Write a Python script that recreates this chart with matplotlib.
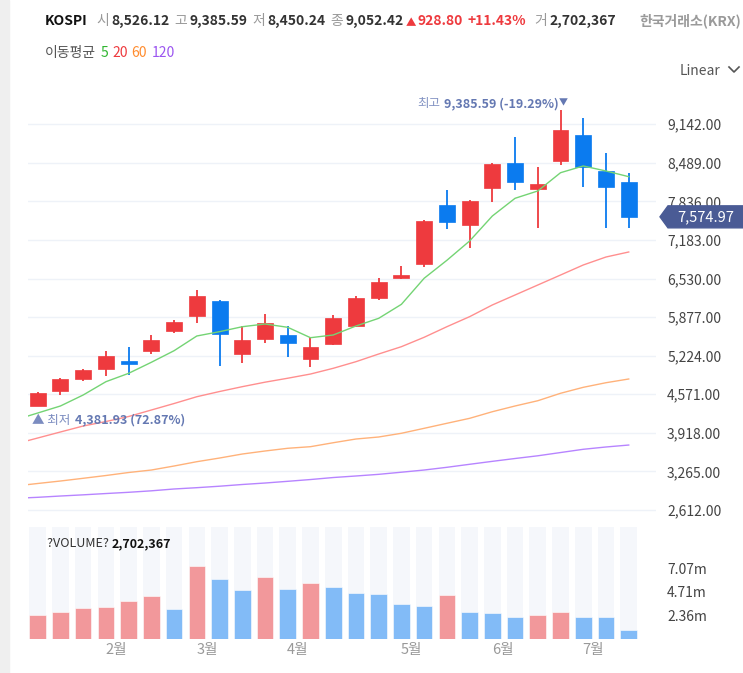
import numpy as np
import matplotlib.pyplot as plt
from matplotlib.patches import Polygon, Rectangle
from matplotlib.lines import Line2D
import matplotlib.transforms as mtransforms

plt.rcParams['font.family'] = ['Noto Sans CJK KR', 'DejaVu Sans']

# weekly KOSPI candles (Jan .. Jul)
open_ = [4373, 4632, 4825, 4994, 5135, 5299, 5637, 5901, 6155, 5253,
         5502, 5575, 5168, 5417, 5732, 6206, 6535, 6777, 7771, 7437,
         8068, 8492, 8041, 8526.12, 8961, 8351, 8170]
high = [4610, 4847, 5004, 5309, 5367, 5575, 5829, 6337, 6167, 5727,
        5925, 5727, 5546, 5908, 6235, 6545, 6743, 7522, 8030, 7860,
        8480, 8927, 8424, 9385.59, 9243, 8651, 8312]
low = [4381.93, 4554, 4796, 4881, 4893, 5253, 5603, 5773, 5050, 5096,
       5444, 5207, 5028, 5400, 5715, 6167, 6528, 6731, 7364, 7043,
       7832, 8030, 7391, 8450.24, 8075, 7381, 7391]
close = [4588, 4835, 4982, 5219, 5084, 5490, 5800, 6240, 5587, 5490,
         5783, 5439, 5377, 5868, 6196, 6467, 6591, 7505, 7493, 7848,
         8470, 8160, 8123.62, 9052.42, 8424, 8086, 7574.97]
# volume in millions
volume = [2.40, 2.67, 3.10, 3.13, 3.77, 4.23, 3.00, 7.30, 5.93, 4.83,
          6.17, 4.97, 5.57, 5.20, 4.60, 4.47, 3.50, 3.27, 4.33, 2.63,
          2.60, 2.13, 2.40, 2.70, 2.20, 2.18, 0.87]

# moving averages, first value belongs to the week before the first candle
ma5 = [4136, 4254, 4373, 4559, 4784, 4926, 5113, 5309, 5558, 5631, 5715,
       5761, 5705, 5529, 5575, 5727, 5857, 6094, 6535, 6839, 7166, 7589,
       7889, 8013, 8322, 8436, 8351, 8255]
ma20 = [3729, 3831, 3933, 4034, 4110, 4195, 4305, 4415, 4530, 4618, 4700,
        4776, 4843, 4914, 5011, 5123, 5253, 5377, 5536, 5715, 5885, 6083,
        6252, 6421, 6590, 6760, 6895, 6980]
ma60 = [3018, 3061, 3103, 3149, 3196, 3247, 3289, 3357, 3430, 3492, 3560,
        3611, 3657, 3684, 3751, 3814, 3848, 3911, 3995, 4080, 4164, 4276,
        4373, 4462, 4588, 4689, 4767, 4830]
ma120 = [2810, 2827, 2849, 2869, 2891, 2912, 2937, 2968, 2990, 3015, 3044,
         3069, 3098, 3128, 3162, 3188, 3216, 3252, 3289, 3335, 3386, 3436,
         3484, 3530, 3585, 3640, 3679, 3712]

price_ticks = [2612, 3265, 3918, 4571, 5224, 5877, 6530, 7183, 7836, 8489, 9142]
vol_ticks = [2.36, 4.71, 7.07]
month_labels = ['2월', '3월', '4월', '5월', '6월', '7월']
month_start = [4, 8, 12, 17, 21, 25]

RED, BLUE = '#ee3a3e', '#0b7bef'
VRED, VBLUE = '#f2989b', '#82bbf7'
W, H = 743, 673

fig = plt.figure(figsize=(W / 100, H / 100), dpi=100)
fig.patches.append(Rectangle((0, 0), 9 / W, 1, transform=fig.transFigure,
                             color='#efefef', zorder=0))


def box(x0, y0, x1, y1):
    return [x0 / W, 1 - y1 / H, (x1 - x0) / W, (y1 - y0) / H]


ax = fig.add_axes(box(28, 88, 656, 520))
axv = fig.add_axes(box(28, 527, 656, 638.7))

x = np.arange(len(close))
xm = np.arange(-1, len(close))
o, c = np.array(open_), np.array(close)
up = c >= o
ccol = np.where(up, RED, BLUE)

ax.vlines(x, low, high, colors=ccol, lw=1.3, zorder=3)
ax.bar(x, np.abs(c - o), bottom=np.minimum(o, c), width=0.7, color=ccol,
       edgecolor=ccol, lw=0.5, zorder=4)

ax.plot(xm, ma120, color='#b784ff', lw=1.0, zorder=2)
ax.plot(xm, ma60, color='#ffb27a', lw=1.0, zorder=2)
ax.plot(xm, ma20, color='#ff8f8f', lw=1.0, zorder=2)
ax.plot(xm, ma5, color='#74d474', lw=1.0, zorder=5)

xlim = (-0.427, 27.2)
ax.set_xlim(*xlim)
ax.set_ylim(2443, 9756)
ax.set_yticks(price_ticks)
ax.set_yticklabels([f'{v:,.2f}' for v in price_ticks])
ax.yaxis.tick_right()
ax.tick_params(axis='y', length=0, pad=8, labelsize=10, labelcolor='#444')
ax.set_xticks([])
ax.grid(axis='y', color='#eef2f8', lw=1.0)
for s in ax.spines.values():
    s.set_visible(False)

# high / low markers
hi = int(np.argmax(high))
lo = int(np.argmin(low))
last = close[-1]
t1 = ax.annotate(f'{high[hi]:,.2f} ({(last - high[hi]) / high[hi] * 100:.2f}%)',
                 xy=(hi, high[hi]), xytext=(-1, 0), textcoords='offset points',
                 ha='right', va='bottom', fontsize=9, weight='bold',
                 color='#6478b2', annotation_clip=False)
ax.annotate('▼', xy=(1, 0), xycoords=t1, xytext=(0, 2), textcoords='offset points',
            ha='left', va='bottom', fontsize=6.5, color='#6478b2')
ax.annotate('최고', xy=(0, 0), xycoords=t1, xytext=(-3, 0),
            textcoords='offset points', ha='right', va='bottom',
            fontsize=9, color='#8595c4')
t2 = ax.annotate('▲ 최저', xy=(lo, low[lo]), xytext=(-4, -6),
                 textcoords='offset points', ha='left', va='top',
                 fontsize=9, color='#7b8cc0', annotation_clip=False)
ax.annotate(f'{low[lo]:,.2f} ({(last - low[lo]) / low[lo] * 100:.2f}%)',
            xy=(1, 0), xycoords=t2, xytext=(3, 0), textcoords='offset points',
            ha='left', va='bottom', fontsize=9,
            weight='bold', color='#6478b2')

# last price badge
tr = mtransforms.blended_transform_factory(ax.transAxes, ax.transData)
fx = lambda px: (px - 28) / 628
hh = 11 * (9756 - 2443) / 432
badge = Polygon([(fx(660), last), (fx(668), last + hh), (fx(743), last + hh),
                 (fx(743), last - hh), (fx(668), last - hh)],
                closed=True, transform=tr, color='#4a5b95', clip_on=False, zorder=6)
ax.add_patch(badge)
ax.text(fx(706), last, f'{last:,.2f}', transform=tr, ha='center', va='center',
        color='white', fontsize=10.5, zorder=7)

# volume
vol = np.array(volume)
vcol = [VRED] + [VRED if vol[i] >= vol[i - 1] else VBLUE for i in range(1, len(vol))]
axv.bar(x, [11.17] * len(vol), width=0.73, color='#f5f7fb', zorder=1)
axv.bar(x, vol, width=0.73, color=vcol, edgecolor='white', lw=0.4, zorder=2)
axv.set_xlim(*xlim)
axv.set_ylim(0, 11.17)
axv.set_yticks(vol_ticks)
axv.set_yticklabels([f'{v:.2f}m' for v in vol_ticks])
axv.yaxis.tick_right()
axv.tick_params(axis='y', length=0, pad=8, labelsize=10, labelcolor='#444')
axv.set_xticks([m - 0.55 for m in month_start])
axv.set_xticklabels(month_labels)
axv.tick_params(axis='x', length=0, pad=3, labelsize=10.5, labelcolor='#999')
for s in axv.spines.values():
    s.set_visible(False)
tv = axv.text(0.03, 0.91, '?VOLUME? ', transform=axv.transAxes, fontsize=9,
              color='#333', va='top', ha='left')
axv.annotate(f'{int(vol[hi] * 1e6 + 2367):,}', xy=(1, 0), xycoords=tv,
             ha='left', va='bottom', fontsize=9, weight='bold', color='#111')


def chain(pieces, x0, ybottom):
    prev = None
    for text, color, weight, size, gap in pieces:
        if prev is None:
            prev = ax.annotate(text, xy=(x0, H - ybottom), xycoords='figure pixels',
                               ha='left', va='bottom', color=color, weight=weight,
                               fontsize=size, annotation_clip=False)
        else:
            prev = ax.annotate(text, xy=(1, 0), xycoords=prev, xytext=(gap, 0),
                               textcoords='offset points', ha='left', va='bottom',
                               color=color, weight=weight, fontsize=size)
    return prev


chain([('KOSPI', '#111', 'bold', 10, 0),
       ('시', '#999', 'normal', 10, 6.5),
       ('8,526.12', '#333', 'bold', 10, 1.5),
       ('고', '#999', 'normal', 10, 3.5),
       ('9,385.59', '#333', 'bold', 10, 1.5),
       ('저', '#999', 'normal', 10, 3.5),
       ('8,450.24', '#333', 'bold', 10, 1.5),
       ('종', '#999', 'normal', 10, 3.5),
       ('9,052.42', '#333', 'bold', 10, 1.5),
       ('▲', '#ee3a3e', 'normal', 7.5, 2),
       ('928.80', '#ee3a3e', 'bold', 10, 1),
       ('+11.43%', '#ee3a3e', 'bold', 10, 3),
       ('거', '#999', 'normal', 10, 6),
       ('2,702,367', '#333', 'bold', 10, 1.5)], 45, 28)
ax.annotate('한국거래소(KRX)', xy=(741, H - 28), xycoords='figure pixels',
            ha='right', va='bottom', color='#9a9a9a', weight='bold', fontsize=10,
            annotation_clip=False)

chain([('이동평균', '#555', 'normal', 10, 0),
       ('5', '#2fb52f', 'normal', 10, 3),
       ('20', '#ee3a3e', 'normal', 10, 3),
       ('60', '#ff8c2e', 'normal', 10, 3),
       ('120', '#9b55f0', 'normal', 10, 3)], 45, 60)

fig.text(680 / W, 1 - 71 / H, 'Linear', color='#555', fontsize=10, va='center')
fig.add_artist(Line2D([729 / W, 734 / W, 739 / W],
                      [1 - 67 / H, 1 - 72 / H, 1 - 67 / H],
                      transform=fig.transFigure, color='#555', lw=1.2))

fig.savefig('out.png', dpi=100)
